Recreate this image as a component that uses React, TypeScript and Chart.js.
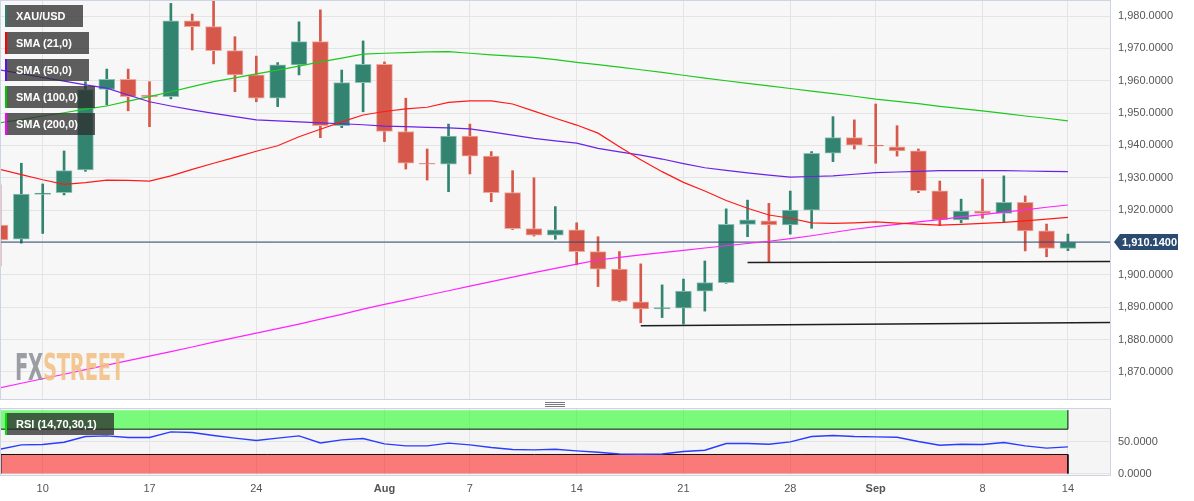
import React, { useEffect, useLayoutEffect, useRef } from 'react';
import { Chart, registerables } from 'chart.js';

Chart.register(...registerables);

const FONT = '"Liberation Sans", Arial, Helvetica, sans-serif';

// ---- data (daily XAU/USD, Jul 6 – Sep 14) ----
const opens = [1915.4, 1911.0, 1924.9, 1925.4, 1932.4, 1957.3, 1960.4, 1955.6, 1955.1, 1978.5,
  1976.7, 1969.3, 1961.8, 1954.6, 1964.9, 1972.1, 1946.1, 1959.4, 1965.1, 1944.3,
  1934.5, 1934.2, 1942.9, 1936.7, 1925.4, 1914.3, 1912.3, 1913.9, 1907.2, 1901.8,
  1891.7, 1889.5, 1889.7, 1895.0, 1897.6, 1915.6, 1916.7, 1915.4, 1920.0, 1937.6,
  1942.4, 1940.1, 1939.6, 1938.3, 1926.0, 1917.0, 1919.7, 1919.0, 1922.4, 1913.6,
  1908.2];
const highs = [1927.8, 1934.5, 1928.1, 1938.3, 1959.7, 1963.6, 1963.6, 1959.7, 1983.9, 1980.6,
  1987.0, 1973.6, 1967.6, 1965.6, 1978.2, 1981.9, 1963.3, 1972.3, 1965.8, 1954.6,
  1938.9, 1946.6, 1946.6, 1938.1, 1932.2, 1930.0, 1921.1, 1916.1, 1911.8, 1907.2,
  1903.4, 1896.9, 1898.7, 1904.3, 1920.4, 1923.1, 1922.1, 1925.9, 1938.1, 1948.9,
  1947.9, 1952.8, 1946.1, 1938.9, 1929.0, 1923.4, 1929.6, 1930.6, 1924.4, 1915.7,
  1912.6];
const lows = [1902.8, 1909.8, 1912.8, 1924.7, 1932.0, 1952.5, 1950.7, 1945.8, 1954.4, 1969.5,
  1965.2, 1956.6, 1953.5, 1952.0, 1961.8, 1942.4, 1945.5, 1950.4, 1941.2, 1932.7,
  1929.3, 1925.7, 1931.2, 1922.6, 1914.0, 1912.0, 1911.0, 1903.1, 1896.4, 1891.7,
  1885.2, 1886.8, 1884.8, 1888.8, 1897.4, 1911.8, 1903.8, 1912.6, 1914.4, 1935.0,
  1938.9, 1934.5, 1936.7, 1925.4, 1915.2, 1916.1, 1917.5, 1916.2, 1907.4, 1905.6,
  1907.5];
const closes = [1910.8, 1925.0, 1925.3, 1932.2, 1957.3, 1960.4, 1955.1, 1955.0, 1978.5, 1976.7,
  1969.3, 1961.8, 1954.6, 1964.9, 1972.1, 1946.1, 1959.4, 1965.1, 1944.3, 1934.5,
  1934.2, 1942.9, 1936.7, 1925.4, 1914.3, 1912.3, 1913.9, 1907.2, 1901.8, 1891.9,
  1889.5, 1889.9, 1895.0, 1897.6, 1915.6, 1917.0, 1915.4, 1920.0, 1937.6, 1942.4,
  1940.1, 1939.8, 1938.3, 1926.0, 1917.0, 1919.7, 1919.0, 1922.4, 1913.6, 1908.2,
  1910.14];

const sma21 = [1932.6, 1931.0, 1929.4, 1928.0, 1928.5, 1929.3, 1929.2, 1929.0, 1930.6, 1932.6,
  1934.5, 1936.3, 1938.2, 1939.9, 1942.7, 1945.0, 1947.3, 1949.4, 1950.5, 1951.3,
  1951.8, 1953.3, 1953.8, 1953.8, 1952.8, 1950.6, 1948.4, 1946.3, 1943.8, 1939.6,
  1935.6, 1931.9, 1928.6, 1925.9, 1923.0, 1920.6, 1918.5, 1917.5, 1916.1, 1915.9,
  1916.1, 1916.4, 1916.0, 1915.7, 1915.4, 1915.6, 1915.9, 1916.2, 1916.7, 1917.2,
  1917.8];
const sma50 = [1963.3, 1962.2, 1961.0, 1959.9, 1958.7, 1957.7, 1955.6, 1953.5, 1952.2, 1951.0,
  1949.9, 1948.9, 1947.9, 1947.6, 1947.3, 1947.0, 1946.7, 1946.4, 1946.0, 1945.8,
  1945.6, 1945.4, 1945.1, 1944.2, 1943.2, 1942.2, 1941.4, 1940.7, 1939.1, 1938.0,
  1937.0, 1935.8, 1934.4, 1933.1, 1932.3, 1931.5, 1930.8, 1930.2, 1930.4, 1930.6,
  1931.1, 1931.6, 1931.8, 1932.0, 1932.2, 1932.2, 1932.2, 1932.2, 1932.1, 1932.0,
  1931.9];
const sma100 = [1947.0, 1948.0, 1949.1, 1950.1, 1951.2, 1952.2, 1953.7, 1955.1, 1956.6, 1958.2,
  1959.7, 1960.9, 1962.1, 1963.3, 1964.5, 1965.8, 1967.0, 1968.2, 1968.5, 1968.7,
  1968.9, 1969.0, 1968.5, 1968.0, 1967.6, 1967.2, 1966.5, 1965.7, 1965.0, 1964.2,
  1963.4, 1962.6, 1961.7, 1960.8, 1960.0, 1959.2, 1958.4, 1957.6, 1956.8, 1956.0,
  1955.2, 1954.3, 1953.6, 1952.9, 1952.1, 1951.4, 1950.7, 1949.9, 1949.1, 1948.4,
  1947.6];
const sma200 = [1865.1, 1866.5, 1867.9, 1869.3, 1870.7, 1872.1, 1873.5, 1874.9, 1876.3, 1877.7,
  1879.2, 1880.6, 1882.0, 1883.4, 1884.8, 1886.3, 1887.8, 1889.4, 1890.9, 1892.3,
  1893.7, 1895.1, 1896.5, 1897.9, 1899.3, 1900.7, 1902.0, 1903.3, 1904.6, 1905.4,
  1906.2, 1906.9, 1907.6, 1908.3, 1909.0, 1909.7, 1910.4, 1911.2, 1912.1, 1913.1,
  1914.1, 1914.9, 1915.6, 1916.4, 1917.1, 1917.9, 1918.6, 1919.4, 1920.1, 1920.9,
  1921.6];
const rsi = [38.4, 45.2, 45.8, 49.4, 58.4, 59.4, 56.9, 56.9, 65.7, 64.8,
  60.0, 55.8, 52.1, 55.8, 59.4, 48.3, 53.1, 55.3, 46.8, 43.6,
  43.6, 47.9, 45.2, 41.1, 37.9, 37.3, 38.4, 35.7, 33.6, 30.9,
  30.5, 30.9, 34.8, 36.8, 47.4, 47.4, 46.3, 49.9, 58.5, 60.0,
  58.5, 57.8, 57.3, 50.6, 44.7, 46.3, 45.8, 49.0, 43.6, 40.0,
  42.0];

const tickIndex = [2, 7, 12, 18, 22, 27, 32, 37, 41, 46, 50];
const tickLabels = ['10', '17', '24', 'Aug', '7', '14', '21', '28', 'Sep', '8', '14'];
const boldLabels = ['Aug', 'Sep'];
const priceTicks = [1870, 1880, 1890, 1900, 1910, 1920, 1930, 1940, 1950, 1960, 1970, 1980];
const rsiTicks = [0, 50];
const lastPrice = 1910.14;
const supportA = [{ x: 35, y: 1903.8 }, { x: 52, y: 1904.1 }];
const supportB = [{ x: 30, y: 1884.3 }, { x: 52, y: 1885.3 }];
const rsiOverbought = 70;
const rsiOversold = 30;

const legendItems = [
  { label: 'XAU/USD', color: '#2e7d6b' },
  { label: 'SMA (21,0)', color: '#ff0000' },
  { label: 'SMA (50,0)', color: '#5a12e0' },
  { label: 'SMA (100,0)', color: '#00c800' },
  { label: 'SMA (200,0)', color: '#ff00ff' },
];

// ---- styles ----
const X_MIN = 0.047;
const X_MAX = 51.97;
const UP = '#328471';
const DOWN = '#d6584a';
const UP_EDGE = '#8fc2b6';
const DOWN_EDGE = '#eeaaa1';
const GRID = '#e4e4e4';
const FRAME = '#cdd5e4';
const NAVY = '#2b4a6f';

const fmt = (v: number) =>
  Number(v).toLocaleString('en-US', { minimumFractionDigits: 4, maximumFractionDigits: 4 });

const framePlugin = {
  id: 'frame',
  beforeDraw(chart: any, _a: any, opts: any) {
    const { ctx, chartArea: a } = chart;
    ctx.save();
    ctx.fillStyle = opts.bg;
    ctx.fillRect(a.left, a.top, a.right - a.left, a.bottom - a.top);
    ctx.restore();
  },
  afterDraw(chart: any, _a: any, opts: any) {
    const { ctx, chartArea: a } = chart;
    ctx.save();
    ctx.strokeStyle = opts.border;
    ctx.lineWidth = 1;
    ctx.strokeRect(a.left - 0.5, a.top - 0.5, a.right - a.left + 1, a.bottom - a.top + 1);
    ctx.restore();
  },
};

const priceTagPlugin = {
  id: 'priceTag',
  afterDraw(chart: any) {
    const { ctx, chartArea: a } = chart;
    const y = Math.round(chart.scales.y.getPixelForValue(lastPrice));
    const x0 = a.right + 4;
    ctx.save();
    ctx.fillStyle = NAVY;
    ctx.beginPath();
    ctx.moveTo(x0, y);
    ctx.lineTo(x0 + 6, y - 8);
    ctx.lineTo(x0 + 64, y - 8);
    ctx.lineTo(x0 + 64, y + 8);
    ctx.lineTo(x0 + 6, y + 8);
    ctx.closePath();
    ctx.fill();
    ctx.fillStyle = '#ffffff';
    ctx.font = 'bold 11px ' + FONT;
    ctx.textBaseline = 'middle';
    ctx.textAlign = 'left';
    ctx.fillText(fmt(lastPrice), x0 + 8, y + 1);
    ctx.restore();
  },
};

const weekTicks = (s: any) => {
  s.ticks = tickIndex.map((v) => ({ value: v }));
};
const fitX = (h: number) => (s: any) => {
  s.height = h;
  s.paddingLeft = 0;
  s.paddingRight = 0;
};
const fitY = (s: any) => {
  s.width = 84;
  s.paddingTop = 0;
  s.paddingBottom = 0;
};

function mainConfig(): any {
  const idx = closes.map((_, i) => i);
  const isUp = idx.map((i) => closes[i] >= opens[i]);
  const line = (data: number[], color: string) => ({
    type: 'line',
    data: data.map((v, i) => ({ x: i, y: v })),
    borderColor: color,
    borderWidth: 1.2,
    pointRadius: 0,
    tension: 0,
    order: 0,
    clip: 0,
  });
  return {
    type: 'line',
    data: {
      datasets: [
        line(sma21, '#ff1a1a'),
        line(sma50, '#6a22e8'),
        line(sma100, '#1ec81e'),
        line(sma200, '#ff22ff'),
        {
          type: 'line',
          data: [{ x: -1, y: lastPrice }, { x: 53, y: lastPrice }],
          borderColor: NAVY, borderWidth: 1, pointRadius: 0, order: 0, clip: 0,
        },
        { type: 'line', data: supportA, borderColor: '#1e1e1e', borderWidth: 1.5, pointRadius: 0, order: 0, clip: 0 },
        { type: 'line', data: supportB, borderColor: '#1e1e1e', borderWidth: 1.5, pointRadius: 0, order: 0, clip: 0 },
        {
          type: 'bar',
          data: idx.map((i) => ({ x: i, y: [opens[i], closes[i]] })),
          backgroundColor: isUp.map((u) => (u ? UP : DOWN)),
          borderColor: isUp.map((u) => (u ? UP_EDGE : DOWN_EDGE)),
          borderWidth: 1,
          borderSkipped: false,
          barThickness: 16,
          grouped: false,
          order: 1,
          clip: 0,
        },
        {
          type: 'bar',
          data: idx.map((i) => ({ x: i, y: [lows[i], highs[i]] })),
          backgroundColor: isUp.map((u) => (u ? UP : DOWN)),
          borderWidth: 0,
          barThickness: 2,
          grouped: false,
          order: 2,
          clip: 0,
        },
      ],
    },
    options: {
      responsive: false,
      animation: false,
      devicePixelRatio: 1,
      layout: { padding: { left: 1, top: 1, right: 0, bottom: 1 } },
      plugins: {
        legend: { display: false },
        tooltip: { enabled: false },
        frame: { bg: '#f7f7f7', border: FRAME },
      },
      scales: {
        x: {
          type: 'linear',
          offset: false,
          min: X_MIN,
          max: X_MAX,
          afterBuildTicks: weekTicks,
          ticks: { display: false, autoSkip: false },
          grid: { color: GRID, drawTicks: false, offset: false },
          border: { display: false },
          afterFit: fitX(0),
        },
        y: {
          position: 'right',
          min: 1861.64,
          max: 1984.64,
          afterBuildTicks: (s: any) => { s.ticks = priceTicks.map((v) => ({ value: v })); },
          ticks: { color: '#555', font: { size: 11, family: FONT }, padding: 8, callback: (v: number) => fmt(v) },
          grid: { color: GRID, drawTicks: false },
          border: { display: false },
          afterFit: fitY,
        },
      },
    },
    plugins: [framePlugin, priceTagPlugin],
  };
}

function rsiConfig(): any {
  const last = closes.length - 1;
  return {
    type: 'line',
    data: {
      datasets: [
        {
          type: 'line',
          data: rsi.map((v, i) => ({ x: i, y: v })),
          borderColor: '#2a3cff', borderWidth: 1.4, pointRadius: 0, tension: 0, order: 0, clip: 0,
        },
        {
          data: [{ x: -1, y: rsiOverbought }, { x: last, y: rsiOverbought }, { x: last, y: 100 }],
          borderColor: '#111', borderWidth: 1, pointRadius: 0, order: 1, clip: 0,
        },
        {
          data: [{ x: X_MIN, y: 0 }, { x: X_MIN, y: rsiOversold }, { x: last, y: rsiOversold }, { x: last, y: 0 }],
          borderColor: '#111', borderWidth: 1, pointRadius: 0, order: 1, clip: 0,
        },
        {
          data: [{ x: -1, y: 100 }, { x: last, y: 100 }],
          borderColor: 'transparent', pointRadius: 0, order: 2, clip: 0,
          fill: { value: rsiOverbought }, backgroundColor: 'rgba(0,255,0,0.5)',
        },
        {
          data: [{ x: -1, y: rsiOversold }, { x: last, y: rsiOversold }],
          borderColor: 'transparent', pointRadius: 0, order: 2, clip: 0,
          fill: { value: 0 }, backgroundColor: 'rgba(255,0,0,0.5)',
        },
      ],
    },
    options: {
      responsive: false,
      animation: false,
      devicePixelRatio: 1,
      layout: { padding: { left: 1, top: 9, right: 0, bottom: 0 } },
      plugins: {
        legend: { display: false },
        tooltip: { enabled: false },
        filler: { propagate: false },
        frame: { bg: '#f5f5f5', border: FRAME },
      },
      scales: {
        x: {
          type: 'linear',
          offset: false,
          min: X_MIN,
          max: X_MAX,
          afterBuildTicks: weekTicks,
          ticks: {
            autoSkip: false,
            maxRotation: 0,
            padding: 7,
            color: '#555',
            callback: (v: number) => tickLabels[tickIndex.indexOf(v)],
            font: (ctx: any) => {
              const lbl = ctx.tick ? tickLabels[tickIndex.indexOf(ctx.tick.value)] : '';
              return { size: 11, family: FONT, weight: boldLabels.includes(lbl) ? 'bold' : 'normal' };
            },
          },
          grid: { color: GRID, drawTicks: false, offset: false },
          border: { display: false },
          afterFit: fitX(26),
        },
        y: {
          position: 'right',
          min: -2.4,
          max: 101.9,
          afterBuildTicks: (s: any) => { s.ticks = rsiTicks.map((v) => ({ value: v })); },
          ticks: { color: '#555', font: { size: 11, family: FONT }, padding: 8, callback: (v: number) => fmt(v) },
          grid: { color: GRID, drawTicks: false },
          border: { display: false },
          afterFit: fitY,
        },
      },
    },
    plugins: [framePlugin],
  };
}

const boxStyle = (top: number, color: string): React.CSSProperties => ({
  position: 'absolute',
  left: 5,
  top,
  height: 22,
  boxSizing: 'border-box',
  borderLeft: `2.5px solid ${color}`,
  background: 'rgba(45,45,45,0.76)',
  color: '#fff',
  fontFamily: FONT,
  fontWeight: 'bold',
  fontSize: 11,
  lineHeight: '22px',
  padding: '0 17px 0 9px',
  whiteSpace: 'nowrap',
});

export default function App() {
  const mainRef = useRef<HTMLCanvasElement>(null);
  const rsiRef = useRef<HTMLCanvasElement>(null);
  const wmRef = useRef<HTMLDivElement>(null);

  useEffect(() => {
    const c1 = new Chart(mainRef.current as HTMLCanvasElement, mainConfig());
    const c2 = new Chart(rsiRef.current as HTMLCanvasElement, rsiConfig());
    return () => {
      c1.destroy();
      c2.destroy();
    };
  }, []);

  useLayoutEffect(() => {
    const el = wmRef.current;
    if (el) {
      const w = el.offsetWidth;
      if (w > 0) el.style.transform = `scaleX(${109 / w})`;
    }
  }, []);

  return (
    <div style={{ position: 'absolute', left: 0, top: 0, width: 1194, height: 501, background: '#fff', overflow: 'hidden' }}>
      <canvas ref={mainRef} width={1194} height={400} style={{ position: 'absolute', left: 0, top: 0 }} />
      <canvas ref={rsiRef} width={1194} height={101} style={{ position: 'absolute', left: 0, top: 400 }} />
      {legendItems.map((it, i) => (
        <div key={it.label} style={boxStyle(5 + i * 27, it.color)}>{it.label}</div>
      ))}
      <div style={boxStyle(413, '#00e400')}>RSI (14,70,30,1)</div>
      <div
        ref={wmRef}
        style={{
          position: 'absolute', left: 15, top: 349, transformOrigin: '0 0',
          fontFamily: `"Liberation Sans Narrow", "DejaVu Sans Condensed", ${FONT}`,
          fontWeight: 'bold', fontSize: 37, lineHeight: '37px',
          whiteSpace: 'nowrap', opacity: 0.85, letterSpacing: '-0.5px',
        }}
      >
        <span style={{ color: '#8c8e96' }}>FX</span>
        <span style={{ color: '#f2bf83' }}>STREET</span>
      </div>
      {[402, 404, 406].map((y) => (
        <div key={y} style={{ position: 'absolute', left: 545, top: y, width: 20, height: 1, background: '#7a7a7a' }} />
      ))}
    </div>
  );
}
